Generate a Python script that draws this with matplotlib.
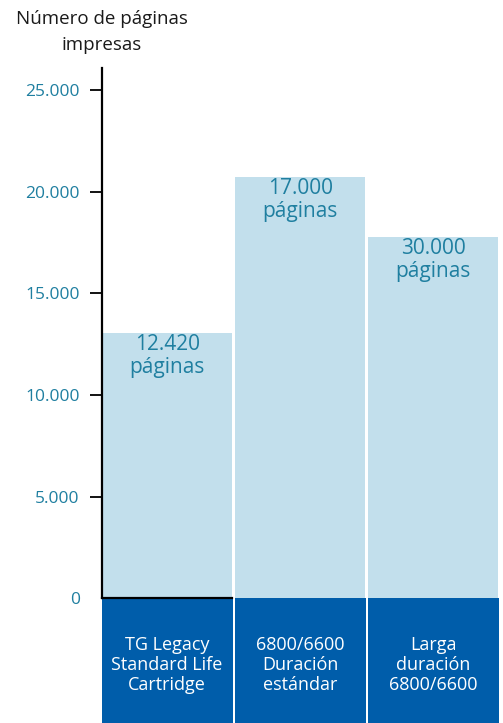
import matplotlib.pyplot as plt
import numpy as np

plt.rcParams['font.family'] = ['Open Sans', 'DejaVu Sans']

categories = ['TG Legacy\nStandard Life\nCartridge', '6800/6600\nDuración\nestándar', 'Larga\nduración\n6800/6600']
bar_heights = [13050, 20740, 17780]
bar_labels = ['12.420\npáginas', '17.000\npáginas', '30.000\npáginas']
yticks = [0, 5000, 10000, 15000, 20000, 25000]
title = 'Número de páginas\nimpresas'

light = '#c2dfec'
dark = '#005daa'
teal = '#1f7fa0'

fig = plt.figure(figsize=(5.03, 7.23), dpi=100)
ax = fig.add_axes([102/503, 0, 1 - 102/503, 655/723])
x = np.arange(len(categories))

ax.bar(x, bar_heights, width=0.975, color=light, zorder=2)
# category boxes below the zero line
box_h = 6150
ax.bar(x, [-box_h] * len(x), width=0.985, color=dark, zorder=2, clip_on=False)

for xi, h, lab in zip(x, bar_heights, bar_labels):
    ax.annotate(lab, (xi, h), xytext=(0, -1), textcoords='offset points',
                ha='center', va='top', fontsize=15, color=teal,
                linespacing=1.12, zorder=3)
for xi, cat in zip(x, categories):
    ax.text(xi, -3300, cat, ha='center', va='center', fontsize=13,
            color='white', linespacing=1.15, zorder=3)

ax.set_xlim(-0.49, 2.526)
ax.set_ylim(-box_h, 26100)
ax.set_yticks(yticks)
ax.set_yticklabels([f'{v:,}'.replace(',', '.') for v in yticks])
ax.tick_params(axis='y', length=9, width=1.3, pad=7, labelsize=12.5, labelcolor=teal)
ax.yaxis.get_major_ticks()[0].tick1line.set_visible(False)
ax.set_xticks([])

for s in ['top', 'right']:
    ax.spines[s].set_visible(False)
ax.spines['left'].set_bounds(0, 26100)
ax.spines['left'].set_linewidth(1.6)
ax.spines['bottom'].set_position(('data', 0))
ax.spines['bottom'].set_bounds(-0.49, 0.49)
ax.spines['bottom'].set_linewidth(1.6)
ax.spines['bottom'].set_zorder(4)
ax.spines['left'].set_zorder(4)

fig.text(102/503, 1 - 10/723, title, ha='center', va='top', fontsize=13.5,
         color='#1a1a1a', linespacing=1.55)

fig.savefig('out.png', dpi=100)
